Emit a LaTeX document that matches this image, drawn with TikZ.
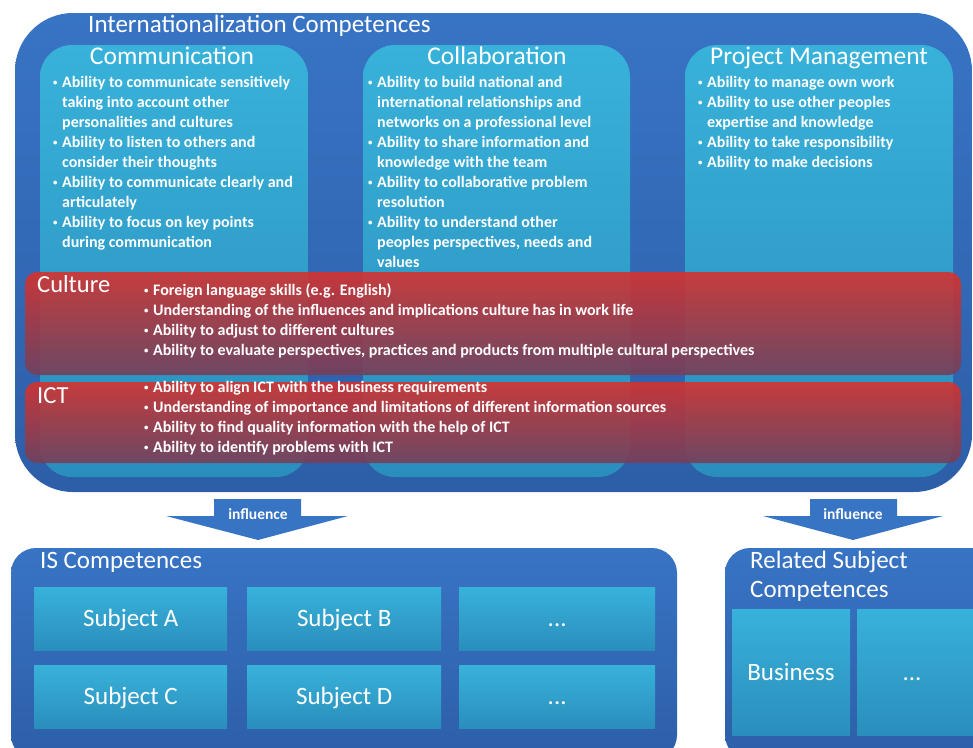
\documentclass[tikz,border=0pt]{standalone}
\usepackage{fontspec}
\usepackage{graphicx}
\setmainfont{Carlito}
\usetikzlibrary{calc}
\definecolor{outerblue}{HTML}{3874C4}
\definecolor{outerblueb}{HTML}{2D5EA8}
\definecolor{cyant}{HTML}{38B2DA}
\definecolor{cyanb}{HTML}{2A8EBC}
\definecolor{redt}{HTML}{D6322E}
\definecolor{redb}{HTML}{74405A}
\newcommand{\bl}{\makebox[9pt][l]{\raisebox{2.5pt}{\scalebox{0.55}{\textbullet}}}}
\newcommand{\cl}{\hspace*{9pt}}
\tikzset{
  outerbox/.style={top color=outerblue, bottom color=outerblueb, draw=none},
  innerbox/.style={top color=cyant, bottom color=cyanb, draw=none},
  band/.style={top color=redt, bottom color=redb, fill opacity=0.9, draw=none},
  subj/.style={top color=cyant, bottom color=cyanb, draw=none},
  bigtitle/.style={text=white, font=\fontsize{25}{29}\selectfont, inner sep=0pt},
  boxtitle/.style={text=white, font=\fontsize{25.5}{29}\selectfont, inner sep=0pt},
  bullets/.style={text=white, font=\bfseries\fontsize{16}{20}\selectfont, align=left, inner sep=0pt, anchor=north west},
  bandbullets/.style={text=white, font=\bfseries\fontsize{16}{20}\selectfont, align=left, inner sep=0pt, anchor=north west},
  bandtitle/.style={text=white, font=\fontsize{24.5}{28}\selectfont, inner sep=0pt, anchor=base west},
  subjtext/.style={text=white, font=\fontsize{25}{29}\selectfont, inner sep=0pt},
  arrowtext/.style={text=white, font=\bfseries\fontsize{15.5}{18}\selectfont, inner sep=0pt},
}
\begin{document}
\begin{tikzpicture}[x=1pt,y=-1pt]
\useasboundingbox (0,0) rectangle (973,747);
% outer box
\path[outerbox, rounded corners=58] (15,13) rectangle (972,492);
\node[bigtitle, anchor=base west] (title) at (88,32) {Internationalization Competences};
% inner boxes
\path[innerbox, rounded corners=32] (40,45) rectangle (308,477);
\path[innerbox, rounded corners=32] (363,45) rectangle (630,477);
\path[innerbox, rounded corners=32] (685,45) rectangle (953,477);
\node[boxtitle, anchor=base] (comm) at (172,64) {Communication};
\node[boxtitle, anchor=base] (coll) at (497,64) {Collaboration};
\node[boxtitle, anchor=base] (pm) at (819,64) {Project Management};
\node[bullets] (commb) at (53,76.5) {%
\bl Ability to communicate sensitively\\
\cl taking into account other\\
\cl personalities and cultures\\
\bl Ability to listen to others and\\
\cl consider their thoughts\\
\bl Ability to communicate clearly and\\
\cl articulately\\
\bl Ability to focus on key points\\
\cl during communication};
\node[bullets] (collb) at (368,76.5) {%
\bl Ability to build national and\\
\cl international relationships and\\
\cl networks on a professional level\\
\bl Ability to share information and\\
\cl knowledge with the team\\
\bl Ability to collaborative problem\\
\cl resolution\\
\bl Ability to understand other\\
\cl peoples perspectives, needs and\\
\cl values};
\node[bullets] (pmb) at (698,76.5) {%
\bl Ability to manage own work\\
\bl Ability to use other peoples\\
\cl expertise and knowledge\\
\bl Ability to take responsibility\\
\bl Ability to make decisions};
% bands
\path[band, rounded corners=12] (25,272) rectangle (961,375);
\path[band, rounded corners=12] (25,382) rectangle (961,463);
\node[bandtitle] (culture) at (37,292) {Culture};
\node[bandtitle] (ict) at (37,403) {ICT};
\node[bandbullets] (cultb) at (144,283.5) {%
\bl Foreign language skills (e.g. English)\\
\bl Understanding of the influences and implications culture has in work life\\
\bl Ability to adjust to different cultures\\
\bl Ability to evaluate perspectives, practices and products from multiple cultural perspectives};
\node[bandbullets] (ictb) at (144,381.5) {%
\bl Ability to align ICT with the business requirements\\
\bl Understanding of importance and limitations of different information sources\\
\bl Ability to find quality information with the help of ICT\\
\bl Ability to identify problems with ICT};
% arrows
\fill[outerblue] (214,499) -- (301,499) -- (301,516) -- (348,516) -- (258,540) -- (166,516) -- (214,516) -- cycle;
\node[arrowtext] (linf) at (258,514) {influence};
\fill[outerblue] (810,499) -- (897,499) -- (897,516) -- (943,516) -- (853,540) -- (763,516) -- (810,516) -- cycle;
\node[arrowtext] (rinf) at (853,514) {influence};
% IS competences
\path[outerbox, rounded corners=25] (11,548) rectangle (677,760);
\node[bigtitle, anchor=base west] (is) at (40,568) {IS Competences};
\node[subj, minimum width=193pt, minimum height=63pt, anchor=north west] (sa) at (34,587) {};
\node[subj, minimum width=194pt, minimum height=63pt, anchor=north west] (sb) at (247,587) {};
\node[subj, minimum width=196pt, minimum height=63pt, anchor=north west] (sx1) at (459,587) {};
\node[subj, minimum width=193pt, minimum height=63pt, anchor=north west] (sc) at (34,665) {};
\node[subj, minimum width=194pt, minimum height=63pt, anchor=north west] (sd) at (247,665) {};
\node[subj, minimum width=196pt, minimum height=63pt, anchor=north west] (sx2) at (459,665) {};
\node[subjtext, anchor=base] (ta) at ($(sa.center)+(0,8)$) {Subject A};
\node[subjtext, anchor=base] (tb) at ($(sb.center)+(0,8)$) {Subject B};
\node[subjtext, anchor=base] (tx1) at ($(sx1.center)+(0,8)$) {...};
\node[subjtext, anchor=base] (tc) at ($(sc.center)+(0,8)$) {Subject C};
\node[subjtext, anchor=base] (td) at ($(sd.center)+(0,8)$) {Subject D};
\node[subjtext, anchor=base] (tx2) at ($(sx2.center)+(0,8)$) {...};
% related
\path[outerbox, rounded corners=25] (725,548) rectangle (1000,760);
\node[bigtitle, anchor=base west] (rel) at (750,568) {Related Subject};
\node[bigtitle, anchor=base west] (rel2) at (750,597) {Competences};
\node[subj, minimum width=118pt, minimum height=126pt, anchor=north west] (bus) at (732,609) {};
\node[subj, minimum width=130pt, minimum height=126pt, anchor=north west] (rx) at (857,609) {};
\node[subjtext, anchor=base] (tbus) at (791,680) {Business};
\node[subjtext, anchor=base] (trx) at (912,680) {...};
\end{tikzpicture}
\end{document}
